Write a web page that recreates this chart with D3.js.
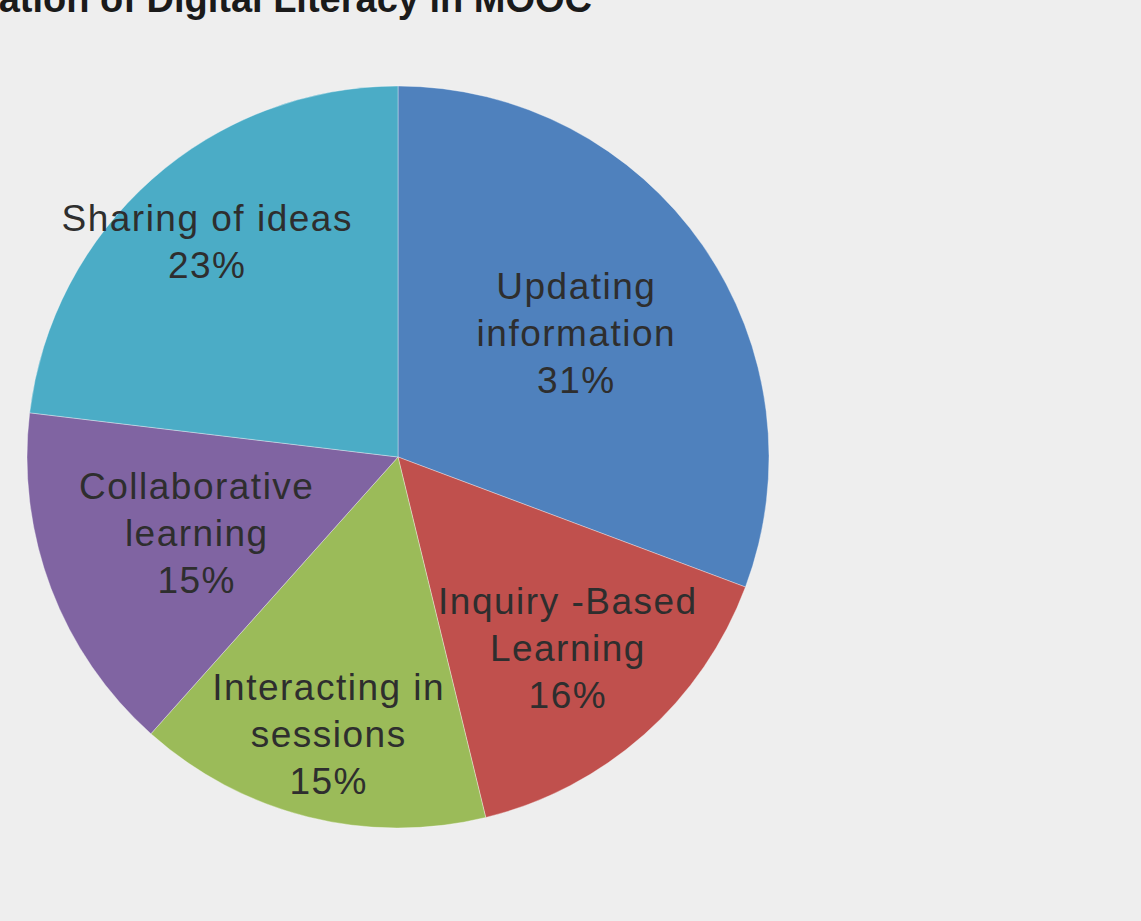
<!DOCTYPE html>
<html>
<head>
<meta charset="utf-8">
<script src="https://cdn.jsdelivr.net/npm/d3@7"></script>
<style>
  html, body { margin: 0; padding: 0; background: #eeeeee; overflow: hidden; }
  svg { display: block; }
</style>
</head>
<body>
<svg id="chart" width="1141" height="921"></svg>
<script>
// === Pie: digital literacy activities in MOOC ===

const titleText = "Utilization of Digital Literacy in MOOC";

// slice order goes clockwise from 12 o'clock
const categories = [
  ["Updating", "information"],
  ["Inquiry -Based", "Learning"],
  ["Interacting in", "sessions"],
  ["Collaborative", "learning"],
  ["Sharing of ideas"]
];
const values = [30.7, 15.5, 15.4, 15.3, 23.1];
const colors = ["#4f81bd", "#c0504d", "#9bbb59", "#8064a2", "#4bacc6"];

// how far out each label sits (fraction of radius) - Excel fits them by hand
const labelRadius = [0.585, 0.69, 0.77, 0.58, 0.775];

const svg = d3.select("#chart");
const cx = 398, cy = 457, radius = 371;

// title, mostly cut off at the top like the screenshot
svg.append("text")
  .attr("x", 592)
  .attr("y", 12)
  .attr("text-anchor", "end")
  .attr("font-family", "'Liberation Sans', Arial, sans-serif")
  .attr("font-weight", "bold")
  .attr("font-size", 38)
  .attr("fill", "#1a1a1a")
  .text(titleText);

const pie = d3.pie().sort(null).value(d => d);
const arcs = pie(values);

const arc = d3.arc().innerRadius(0).outerRadius(radius);

const g = svg.append("g").attr("transform", `translate(${cx},${cy})`);

g.selectAll("path.slice")
  .data(arcs)
  .enter()
  .append("path")
  .attr("class", "slice")
  .attr("d", arc)
  .attr("fill", (d, i) => colors[i])
  .attr("stroke", "rgba(255,255,255,0.35)")
  .attr("stroke-width", 1);

const lineH = 47;

arcs.forEach((d, i) => {
  const r = radius * labelRadius[i];
  const c = d3.arc().innerRadius(r).outerRadius(r).centroid(d);
  const lines = categories[i].concat([Math.round(values[i]) + "%"]);
  const startY = c[1] - (lines.length - 1) * lineH / 2;

  const t = g.append("text")
    .attr("text-anchor", "middle")
    .attr("dominant-baseline", "central")
    .attr("font-family", "'Liberation Sans', Arial, sans-serif")
    .attr("font-size", 37)
    .attr("letter-spacing", 1.5)
    .attr("fill", "#2e2e2e");

  lines.forEach((ln, k) => {
    t.append("tspan")
      .attr("x", c[0])
      .attr("y", startY + k * lineH)
      .text(ln);
  });
});
</script>
</body>
</html>
